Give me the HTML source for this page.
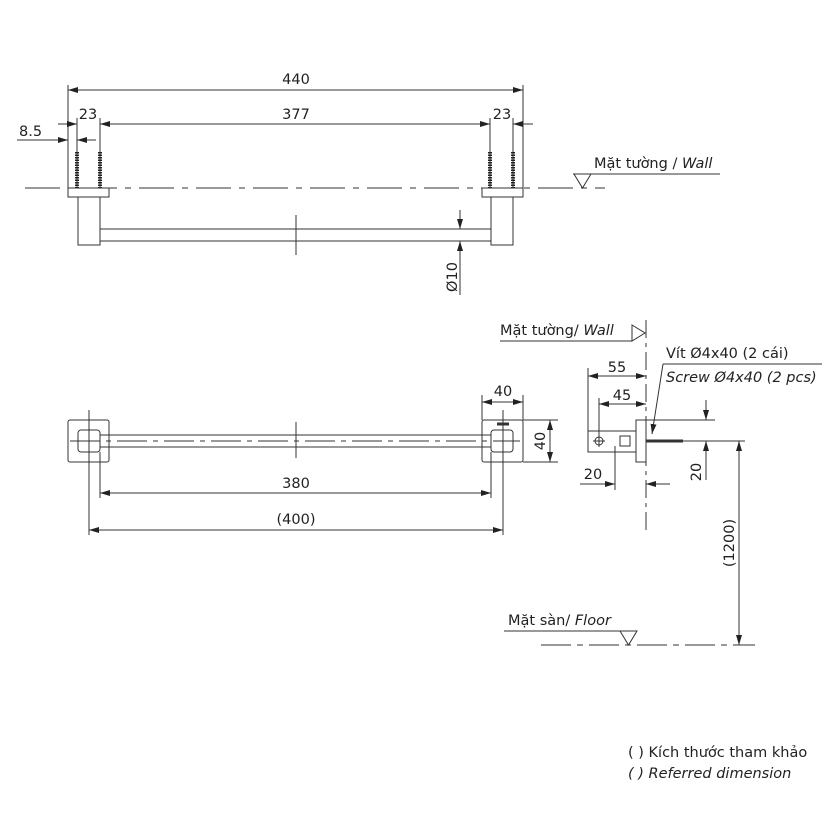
<!DOCTYPE html>
<html><head><meta charset="utf-8"><style>
html,body{margin:0;padding:0;background:#fff}
svg{display:block}
text{font-family:"DejaVu Sans","Liberation Sans",sans-serif;fill:#222;font-size:14.5px}
.i{font-style:italic}
</style></head><body>
<svg width="827" height="827" viewBox="0 0 827 827" xmlns="http://www.w3.org/2000/svg">
<defs>
<marker id="a" viewBox="0 0 10 6" refX="10" refY="3" markerWidth="10" markerHeight="6" markerUnits="userSpaceOnUse" orient="auto-start-reverse"><path d="M0,0L10,3L0,6z" fill="#222"/></marker>
</defs>
<g stroke="#333" stroke-width="1" fill="none">
<line x1="68" y1="85" x2="68" y2="188"/><line x1="523" y1="85" x2="523" y2="197"/>
<line x1="68" y1="90" x2="523" y2="90" marker-start="url(#a)" marker-end="url(#a)"/>
<line x1="58" y1="124" x2="77" y2="124" marker-end="url(#a)"/>
<line x1="100" y1="124" x2="490" y2="124" marker-start="url(#a)" marker-end="url(#a)"/>
<line x1="513" y1="124" x2="533" y2="124" marker-start="url(#a)"/>
<line x1="17" y1="140" x2="68" y2="140" marker-end="url(#a)"/>
<line x1="77" y1="140" x2="96" y2="140" marker-start="url(#a)"/>
<line x1="77" y1="118" x2="77" y2="188"/><line x1="100" y1="118" x2="100" y2="188"/>
<line x1="490" y1="118" x2="490" y2="188"/><line x1="513" y1="118" x2="513" y2="188"/>
<line x1="25" y1="188" x2="605" y2="188" stroke-dasharray="35,8,6,8"/>
<rect x="68" y="188" width="41" height="9"/><rect x="78" y="197" width="22" height="48"/>
<rect x="482" y="188" width="41" height="9"/><rect x="491" y="197" width="22" height="48"/>
<line x1="100" y1="229" x2="491" y2="229"/><line x1="100" y1="241" x2="491" y2="241"/>
<line x1="296" y1="215" x2="296" y2="255"/>
<line x1="460" y1="210" x2="460" y2="229" marker-end="url(#a)"/>
<line x1="460" y1="295" x2="460" y2="241" marker-end="url(#a)"/>
<line x1="440" y1="229" x2="465" y2="229"/>
<line x1="573" y1="174" x2="720" y2="174"/>
<path d="M574,174L591,174L582.5,188z"/>
<rect x="68" y="420" width="41" height="42" rx="2"/><rect x="78" y="430" width="22" height="22" rx="3"/>
<rect x="482" y="420" width="41" height="42" rx="2"/><rect x="491" y="430" width="22" height="22" rx="3"/>
<line x1="100" y1="435" x2="491" y2="435"/><line x1="100" y1="447" x2="491" y2="447"/>
<line x1="70" y1="441" x2="520" y2="441" stroke-dasharray="30,6,5,6"/>
<line x1="296" y1="422" x2="296" y2="458"/>
<line x1="89" y1="410" x2="89" y2="535"/><line x1="503" y1="410" x2="503" y2="535"/>
<line x1="100" y1="452" x2="100" y2="498"/><line x1="491" y1="452" x2="491" y2="498"/>
<line x1="482" y1="395" x2="482" y2="420"/><line x1="523" y1="395" x2="523" y2="420"/>
<line x1="482" y1="402" x2="523" y2="402" marker-start="url(#a)" marker-end="url(#a)"/>
<line x1="523" y1="420" x2="558" y2="420"/><line x1="523" y1="462" x2="558" y2="462"/>
<line x1="550" y1="420" x2="550" y2="462" marker-start="url(#a)" marker-end="url(#a)"/>
<line x1="100" y1="493" x2="491" y2="493" marker-start="url(#a)" marker-end="url(#a)"/>
<line x1="89" y1="530" x2="503" y2="530" marker-start="url(#a)" marker-end="url(#a)"/>
<path d="M497,424h12" stroke-width="3"/>
<line x1="646" y1="320" x2="646" y2="530" stroke-dasharray="18,5,4,5"/>
<line x1="500" y1="341" x2="632" y2="341"/>
<path d="M632,325L645,333L632,341z"/>
<rect x="636" y="420" width="10" height="42"/>
<rect x="588" y="431" width="48" height="21"/>
<rect x="620" y="436" width="10" height="10"/>
<circle cx="599" cy="441" r="4"/><line x1="593" y1="441" x2="605" y2="441"/><line x1="599" y1="435" x2="599" y2="447"/>
<line x1="646" y1="441" x2="683" y2="441" stroke-width="3"/>
<line x1="588" y1="368" x2="588" y2="431"/><line x1="599" y1="398" x2="599" y2="435"/>
<line x1="588" y1="376" x2="646" y2="376" marker-start="url(#a)" marker-end="url(#a)"/>
<line x1="599" y1="404" x2="646" y2="404" marker-start="url(#a)" marker-end="url(#a)"/>
<line x1="615" y1="446" x2="615" y2="490"/>
<line x1="580" y1="484" x2="615" y2="484" marker-end="url(#a)"/>
<line x1="670" y1="484" x2="646" y2="484" marker-end="url(#a)"/>
<line x1="646" y1="420" x2="715" y2="420"/><line x1="683" y1="441" x2="745" y2="441"/>
<line x1="706" y1="400" x2="706" y2="420" marker-end="url(#a)"/>
<line x1="706" y1="480" x2="706" y2="441" marker-end="url(#a)"/>
<line x1="739" y1="441" x2="739" y2="645" marker-start="url(#a)" marker-end="url(#a)"/>
<line x1="663" y1="364" x2="822" y2="364"/>
<line x1="663" y1="364" x2="652" y2="434" marker-end="url(#a)"/>
<line x1="541" y1="645" x2="755" y2="645" stroke-dasharray="30,6,6,6"/>
<line x1="504" y1="631" x2="637" y2="631"/>
<path d="M620,631L637,631L628.5,645z"/>
</g>
<g stroke="#222" stroke-width="4" stroke-dasharray="1.5,1">
<line x1="77" y1="152" x2="77" y2="188"/><line x1="100" y1="152" x2="100" y2="188"/>
<line x1="490" y1="152" x2="490" y2="188"/><line x1="513" y1="152" x2="513" y2="188"/>
</g>
<text x="296" y="84" text-anchor="middle">440</text>
<text x="88" y="119" text-anchor="middle">23</text>
<text x="296" y="119" text-anchor="middle">377</text>
<text x="502" y="119" text-anchor="middle">23</text>
<text x="19" y="136">8.5</text>
<text transform="translate(457,277) rotate(-90)" text-anchor="middle">Ø10</text>
<text x="594" y="168">Mặt tường / <tspan class="i">Wall</tspan></text>
<text x="503" y="396" text-anchor="middle">40</text>
<text transform="translate(545,441) rotate(-90)" text-anchor="middle">40</text>
<text x="296" y="488" text-anchor="middle">380</text>
<text x="296" y="524" text-anchor="middle">(400)</text>
<text x="500" y="335">Mặt tường/ <tspan class="i">Wall</tspan></text>
<text x="617" y="372" text-anchor="middle">55</text>
<text x="622" y="400" text-anchor="middle">45</text>
<text x="593" y="479" text-anchor="middle">20</text>
<text transform="translate(701,472) rotate(-90)" text-anchor="middle">20</text>
<text transform="translate(734,543) rotate(-90)" text-anchor="middle">(1200)</text>
<text x="666" y="358">Vít Ø4x40 (2 cái)</text>
<text x="666" y="382" class="i">Screw Ø4x40 (2 pcs)</text>
<text x="508" y="625">Mặt sàn/ <tspan class="i">Floor</tspan></text>
<text x="628" y="757">( ) Kích thước tham khảo</text>
<text x="628" y="778" class="i">( ) Referred dimension</text>
</svg>
</body></html>
